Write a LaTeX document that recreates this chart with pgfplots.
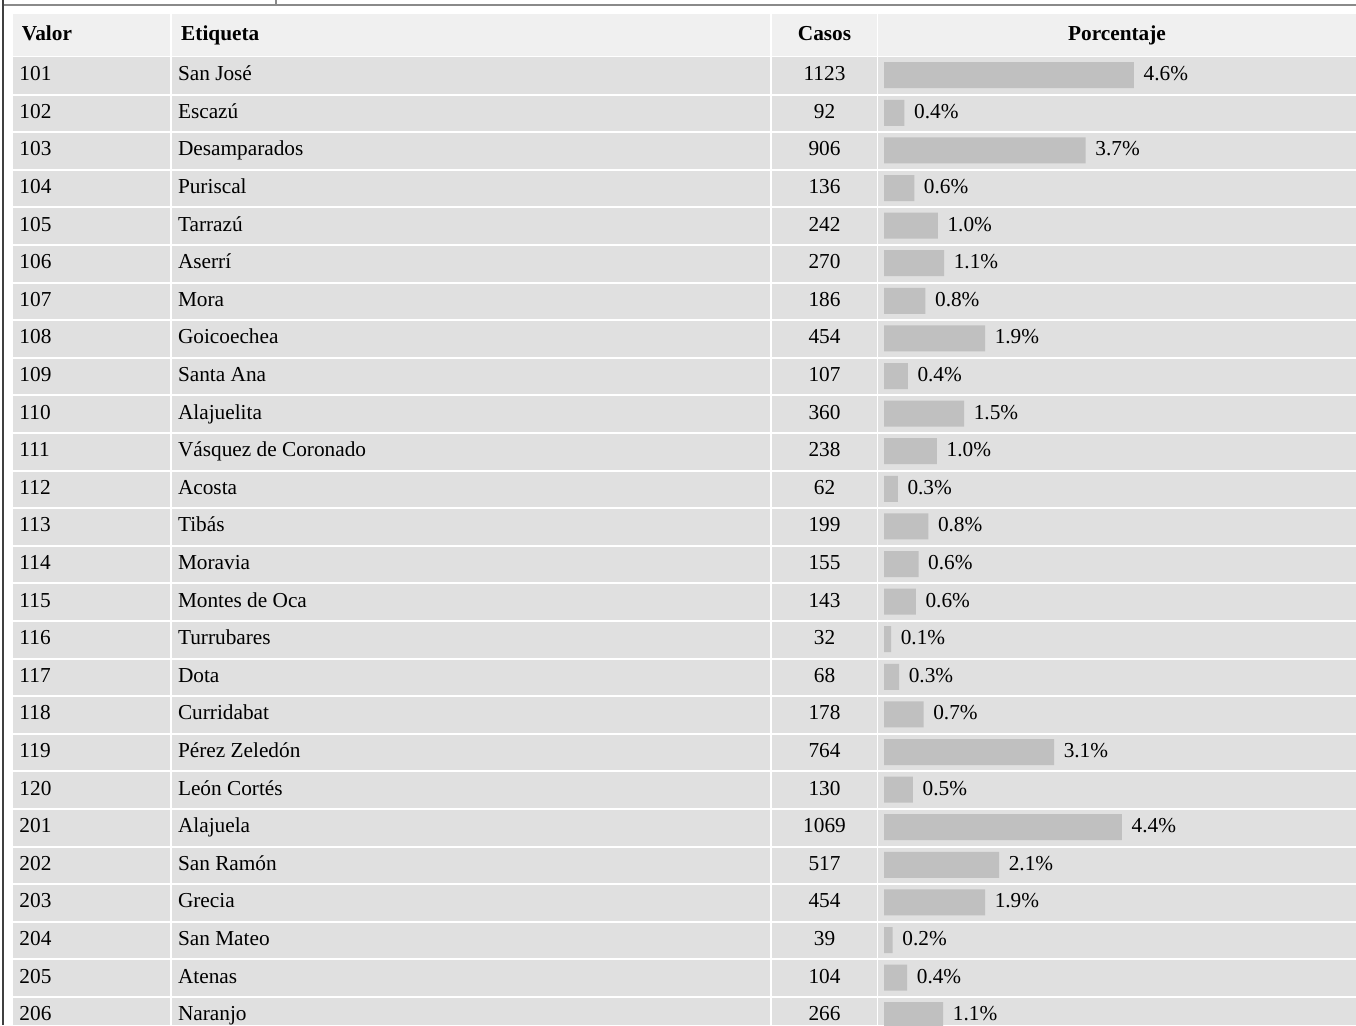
\documentclass[border=0pt]{standalone}
\usepackage{pgfplots}
\pgfplotsset{compat=1.18}
\usepackage{pgfplotstable}
\usepackage{fontspec}
\setmainfont{Liberation Serif}
\definecolor{hdr}{HTML}{F0F0F0}
\definecolor{rowc}{HTML}{E0E0E0}
\definecolor{barc}{HTML}{C0C0C0}
\definecolor{frameA}{HTML}{404040}
\definecolor{frameB}{HTML}{8A8A8A}
\newcommand\tf{\fontsize{21.3}{25}\selectfont}

\pgfplotstableread[col sep=comma]{
row,valor,etiqueta,casos,pct
1,101,San José,1123,4.6
2,102,Escazú,92,0.4
3,103,Desamparados,906,3.7
4,104,Puriscal,136,0.6
5,105,Tarrazú,242,1.0
6,106,Aserrí,270,1.1
7,107,Mora,186,0.8
8,108,Goicoechea,454,1.9
9,109,Santa Ana,107,0.4
10,110,Alajuelita,360,1.5
11,111,Vásquez de Coronado,238,1.0
12,112,Acosta,62,0.3
13,113,Tibás,199,0.8
14,114,Moravia,155,0.6
15,115,Montes de Oca,143,0.6
16,116,Turrubares,32,0.1
17,117,Dota,68,0.3
18,118,Curridabat,178,0.7
19,119,Pérez Zeledón,764,3.1
20,120,León Cortés,130,0.5
21,201,Alajuela,1069,4.4
22,202,San Ramón,517,2.1
23,203,Grecia,454,1.9
24,204,San Mateo,39,0.2
25,205,Atenas,104,0.4
26,206,Naranjo,266,1.1
}\datatable

\begin{document}
\begin{tikzpicture}
\begin{axis}[name=A, at={(0,0)}, anchor=south west,
  width=1356pt, height=1025pt, scale only axis,
  xmin=0, xmax=1356, ymin=0, ymax=1025, y dir=reverse,
  hide axis, clip=false]
  % backgrounds
  \fill[hdr] (axis cs:12.5,14) rectangle (axis cs:1356,56.2);
  \fill[rowc] (axis cs:12.5,57) rectangle (axis cs:1356,1025);
  \pgfplotsinvokeforeach{1,...,25}{
    \draw[white, line width=2pt] (axis cs:12.5,{94.5+37.6*(#1-1)}) -- (axis cs:1356,{94.5+37.6*(#1-1)});
  }
  \draw[white, line width=1.6pt] (axis cs:171,14) -- (axis cs:171,1025);
  \draw[white, line width=1.6pt] (axis cs:771,14) -- (axis cs:771,1025);
  \draw[white, line width=1.6pt] (axis cs:877.5,14) -- (axis cs:877.5,1025);
  % frame
  \draw[frameB, line width=1.8pt] (axis cs:2.7,4.8) -- (axis cs:1356,4.8);
  \draw[frameB, line width=1.3pt] (axis cs:276,0) -- (axis cs:276,4.8);
  \draw[frameA, line width=1.5pt] (axis cs:2.9,0) -- (axis cs:2.9,1025);
  % header
  \node[anchor=base west, inner sep=0pt, font=\tf\bfseries] at (axis cs:21.7,40.7) {Valor};
  \node[anchor=base west, inner sep=0pt, font=\tf\bfseries] at (axis cs:181,40.7) {Etiqueta};
  \node[anchor=base, inner sep=0pt, font=\tf\bfseries] at (axis cs:824.5,40.7) {Casos};
  \node[anchor=base, inner sep=0pt, font=\tf\bfseries] at (axis cs:1117,40.7) {Porcentaje};
  % columns of text
  \addplot[only marks, mark=none, nodes near coords, point meta=explicit symbolic,
    every node near coord/.append style={anchor=base west, inner sep=0pt, font=\tf, text=black}]
    table[x expr=19.3, y expr={80.7+37.6*(\thisrow{row}-1)}, meta=valor] {\datatable};
  \addplot[only marks, mark=none, nodes near coords, point meta=explicit symbolic,
    every node near coord/.append style={anchor=base west, inner sep=0pt, font=\tf, text=black}]
    table[x expr=177.8, y expr={80.7+37.6*(\thisrow{row}-1)}, meta=etiqueta] {\datatable};
  \addplot[only marks, mark=none, nodes near coords, point meta=explicit symbolic,
    every node near coord/.append style={anchor=base, inner sep=0pt, font=\tf, text=black}]
    table[x expr=824.5, y expr={80.7+37.6*(\thisrow{row}-1)}, meta=casos] {\datatable};
\end{axis}
\begin{axis}[at={(0,0)}, anchor=south west,
  width=1356pt, height=1025pt, scale only axis,
  xmin=-3971.25, xmax=2120.4, ymin=0, ymax=1025, y dir=reverse,
  hide axis, clip=false]
  \addplot[xbar, bar width=26, fill=barc, draw=none,
    nodes near coords={\pgfplotspointmeta\%}, point meta=explicit symbolic,
    every node near coord/.append style={anchor=base west, xshift=9.5pt, yshift=-5.5pt, inner sep=0pt, font=\tf, text=black}]
    table[x=casos, y expr={75.2+37.6*(\thisrow{row}-1)}, meta=pct] {\datatable};
\end{axis}
\pgfresetboundingbox
\path (A.south west) rectangle (A.north east);
\end{tikzpicture}
\end{document}
